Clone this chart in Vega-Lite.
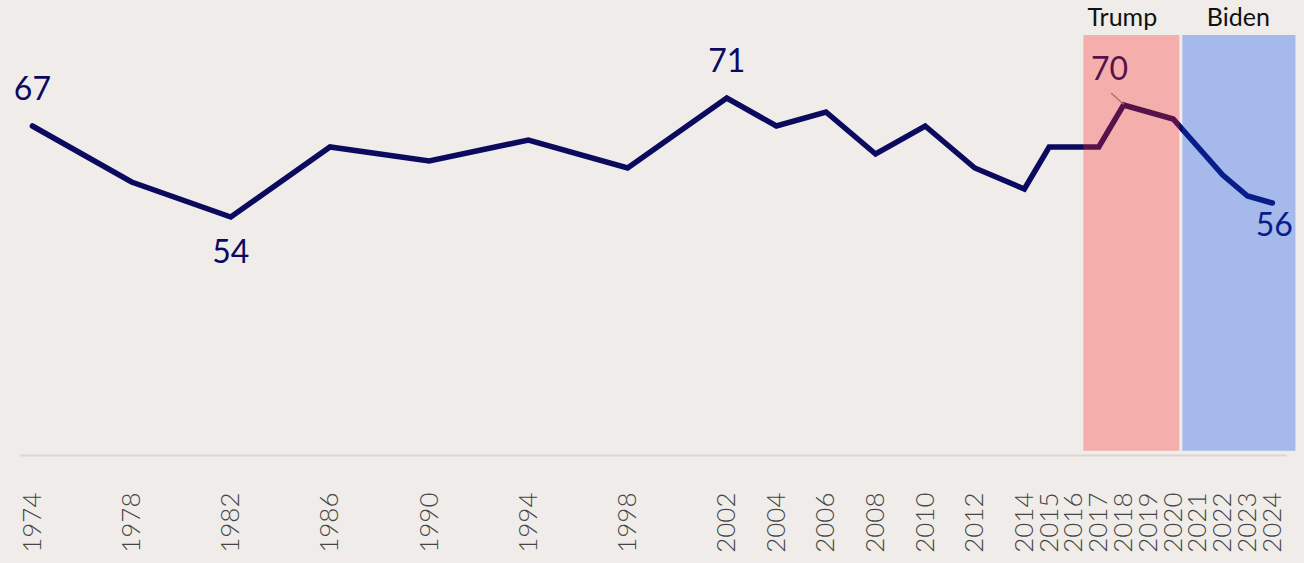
{
  "$schema": "https://vega.github.io/schema/vega-lite/v6.json",
  "width": 1266,
  "height": 420,
  "autosize": {"type": "none"},
  "padding": {"left": 20, "top": 35, "right": 18, "bottom": 108},
  "background": "#efece9",
  "config": {"view": {"stroke": null}, "font": "Lato"},
  "datasets": {
    "series": [
      {"year": 1974, "value": 67},
      {"year": 1978, "value": 59},
      {"year": 1982, "value": 54},
      {"year": 1986, "value": 64},
      {"year": 1990, "value": 62},
      {"year": 1994, "value": 65},
      {"year": 1998, "value": 61},
      {"year": 2002, "value": 71},
      {"year": 2004, "value": 67},
      {"year": 2006, "value": 69},
      {"year": 2008, "value": 63},
      {"year": 2010, "value": 67},
      {"year": 2012, "value": 61},
      {"year": 2014, "value": 58},
      {"year": 2015, "value": 64},
      {"year": 2016, "value": 64},
      {"year": 2017, "value": 64},
      {"year": 2018, "value": 70},
      {"year": 2019, "value": 69},
      {"year": 2020, "value": 68},
      {"year": 2021, "value": 64},
      {"year": 2022, "value": 60},
      {"year": 2023, "value": 57},
      {"year": 2024, "value": 56}
    ],
    "terms": [
      {"name": "Trump", "start": 2016.38, "end": 2020.25, "labelYear": 2017.95, "low": 20.6, "high": 80},
      {"name": "Biden", "start": 2020.37, "end": 2024.93, "labelYear": 2022.63, "low": 20.6, "high": 80}
    ],
    "pointer": [
      {"x1": 2017.5, "y1": 71.7, "x2": 2018.0, "y2": 70.1}
    ]
  },
  "layer": [
    {
      "data": {"name": "series"},
      "mark": {"type": "line", "color": "#0c0a5e", "strokeWidth": 5.5, "strokeCap": "round", "strokeJoin": "miter"},
      "encoding": {
        "x": {
          "field": "year", "type": "quantitative",
          "scale": {"domain": [1973.5, 2024.55], "nice": false, "zero": false},
          "axis": {
            "title": null,
            "values": [1974, 1978, 1982, 1986, 1990, 1994, 1998, 2002, 2004, 2006, 2008, 2010, 2012, 2014, 2015, 2016, 2017, 2018, 2019, 2020, 2021, 2022, 2023, 2024],
            "format": "d",
            "labelAngle": -90,
            "labelAlign": "right",
            "labelBaseline": "middle",
            "labelPadding": 37,
            "labelFontSize": 26,
            "labelFontWeight": 300,
            "labelColor": "#454545",
            "labelOverlap": false,
            "labelFlush": false,
            "ticks": false,
            "grid": false,
            "domainColor": "#d9d6d3",
            "domainWidth": 2
          }
        },
        "y": {
          "field": "value", "type": "quantitative",
          "scale": {"domain": [20, 80], "nice": false, "zero": false},
          "axis": null
        }
      }
    },
    {
      "data": {"name": "pointer"},
      "mark": {"type": "rule", "color": "#a39090", "strokeWidth": 1.5},
      "encoding": {
        "x": {"field": "x1", "type": "quantitative"},
        "y": {"field": "y1", "type": "quantitative"},
        "x2": {"field": "x2"},
        "y2": {"field": "y2"}
      }
    },
    {
      "data": {"name": "series"},
      "transform": [{"filter": "datum.year == 1974 || datum.year == 2002"}],
      "mark": {"type": "text", "fontSize": 32, "color": "#0c0a5e", "baseline": "middle", "align": "center", "dy": -36},
      "encoding": {
        "x": {"field": "year", "type": "quantitative"},
        "y": {"field": "value", "type": "quantitative"},
        "text": {"field": "value", "type": "quantitative"}
      }
    },
    {
      "data": {"name": "series"},
      "transform": [{"filter": "datum.year == 1982"}],
      "mark": {"type": "text", "fontSize": 32, "color": "#0c0a5e", "baseline": "middle", "align": "center", "dy": 36},
      "encoding": {
        "x": {"field": "year", "type": "quantitative"},
        "y": {"field": "value", "type": "quantitative"},
        "text": {"field": "value", "type": "quantitative"}
      }
    },
    {
      "data": {"name": "series"},
      "transform": [{"filter": "datum.year == 2018"}],
      "mark": {"type": "text", "fontSize": 32, "color": "#0c0a5e", "baseline": "middle", "align": "center", "dx": -14, "dy": -35},
      "encoding": {
        "x": {"field": "year", "type": "quantitative"},
        "y": {"field": "value", "type": "quantitative"},
        "text": {"field": "value", "type": "quantitative"}
      }
    },
    {
      "data": {"name": "series"},
      "transform": [{"filter": "datum.year == 2024"}],
      "mark": {"type": "text", "fontSize": 32, "color": "#0c0a5e", "baseline": "middle", "align": "center", "dx": 2, "dy": 23},
      "encoding": {
        "x": {"field": "year", "type": "quantitative"},
        "y": {"field": "value", "type": "quantitative"},
        "text": {"field": "value", "type": "quantitative"}
      }
    },
    {
      "data": {"name": "terms"},
      "mark": {"type": "rect", "opacity": 0.31},
      "encoding": {
        "x": {"field": "start", "type": "quantitative"},
        "x2": {"field": "end"},
        "y": {"field": "low", "type": "quantitative"},
        "y2": {"field": "high"},
        "color": {
          "field": "name", "type": "nominal",
          "scale": {"domain": ["Trump", "Biden"], "range": ["#ff2828", "#0046ee"]},
          "legend": null
        }
      }
    },
    {
      "data": {"name": "terms"},
      "mark": {"type": "text", "fontSize": 25, "color": "#111111", "baseline": "middle", "align": "center", "dy": -17},
      "encoding": {
        "x": {"field": "labelYear", "type": "quantitative"},
        "y": {"field": "high", "type": "quantitative"},
        "text": {"field": "name", "type": "nominal"}
      }
    }
  ]
}
